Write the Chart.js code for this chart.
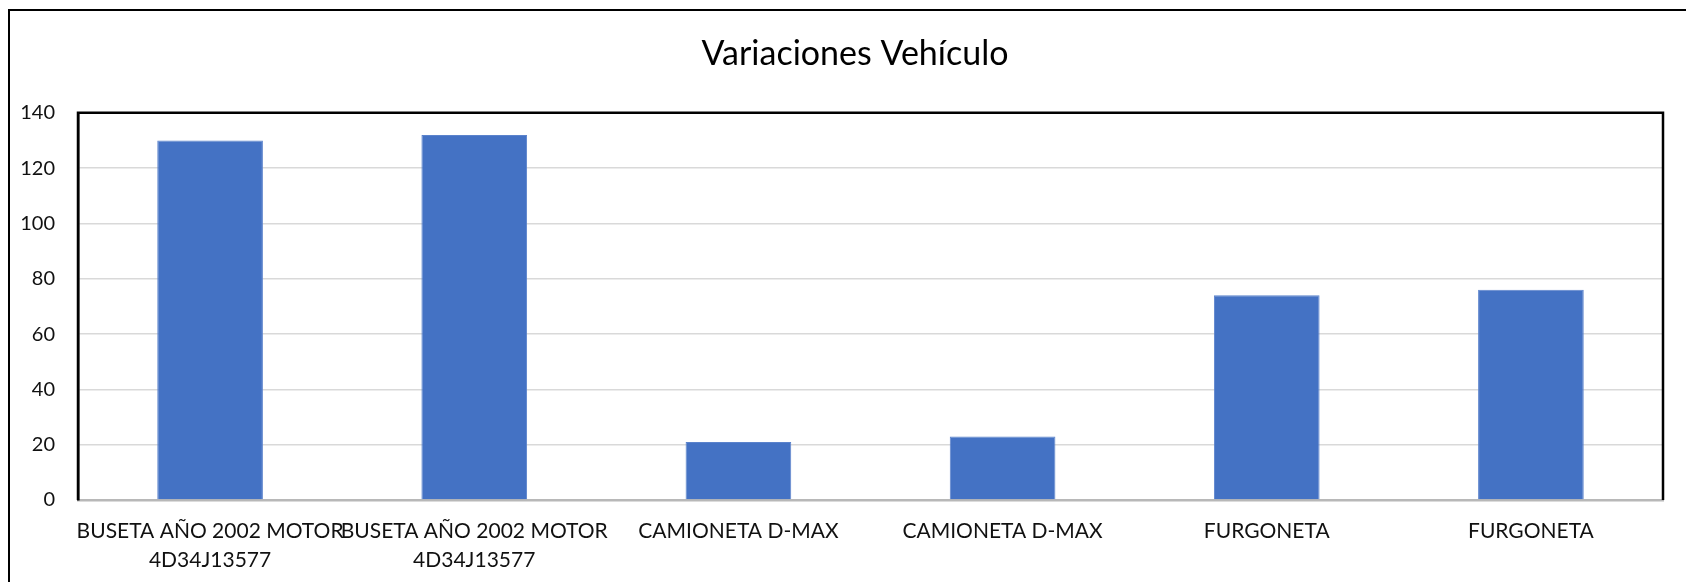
<!DOCTYPE html>
<html>
<head>
<meta charset="utf-8">
<script src="https://cdn.jsdelivr.net/npm/chart.js@4/dist/chart.umd.min.js"></script>
<style>
  html, body { margin: 0; padding: 0; background: #fff; overflow: hidden; }
  #frame { position: absolute; left: 8px; top: 9px; width: 1700px; height: 600px; border: 2.5px solid #000; }
  #vehChart { position: absolute; left: 0; top: 0; }
</style>
</head>
<body>
<div id="frame"></div>
<canvas id="vehChart" width="1700" height="582"></canvas>
<script>
const chartTitle = 'Variaciones Vehículo';
const vehicles = [
  ['BUSETA AÑO 2002 MOTOR', '4D34J13577'],
  ['BUSETA AÑO 2002 MOTOR', '4D34J13577'],
  'CAMIONETA D-MAX',
  'CAMIONETA D-MAX',
  'FURGONETA',
  'FURGONETA'
];
const variations = [130, 132, 21, 23, 74, 76];
const yTicks = [0, 20, 40, 60, 80, 100, 120, 140];

const FONT = "Lato, 'Liberation Sans', sans-serif";

// black outline on top and right of the plot area, like the original
const plotBorder = {
  id: 'plotBorder',
  afterDraw(chart) {
    const { ctx, chartArea: a } = chart;
    ctx.save();
    ctx.strokeStyle = '#000';
    ctx.lineWidth = 2.5;
    ctx.beginPath();
    ctx.moveTo(a.left, a.bottom);
    ctx.lineTo(a.left, a.top);
    ctx.lineTo(a.right, a.top);
    ctx.lineTo(a.right, a.bottom);
    ctx.stroke();
    ctx.restore();
  }
};

const ctx = document.getElementById('vehChart');
new Chart(ctx, {
  type: 'bar',
  data: {
    labels: vehicles,
    datasets: [{
      label: chartTitle,
      data: variations,
      backgroundColor: '#4472C4',
      borderColor: '#5b83cc',
      borderWidth: 1,
      barPercentage: 0.4,
      categoryPercentage: 1
    }]
  },
  options: {
    responsive: false,
    maintainAspectRatio: false,
    animation: false,
    layout: { padding: { top: 10, left: 10, right: 0, bottom: 0 } },
    plugins: {
      legend: { display: false },
      tooltip: { enabled: false },
      title: {
        display: true,
        text: chartTitle,
        color: '#000',
        font: { family: FONT, size: 34, weight: 'normal' },
        padding: { top: 24, bottom: 38 }
      }
    },
    scales: {
      x: {
        grid: { display: false, drawTicks: false },
        border: { display: true, color: '#b8b8b8', width: 2.5 },
        ticks: {
          autoSkip: false,
          maxRotation: 0,
          minRotation: 0,
          padding: 17,
          color: '#111',
          font: { family: FONT, size: 21, lineHeight: 1.38 }
        },
        afterFit(axis) { axis.height = 82; }
      },
      y: {
        min: 0,
        max: 140,
        afterBuildTicks(axis) { axis.ticks = yTicks.map(v => ({ value: v })); },
        grid: { color: '#d9d9d9', lineWidth: 1.5, drawTicks: false },
        border: { display: true, color: '#000', width: 2.5 },
        ticks: {
          padding: 23,
          color: '#111',
          font: { family: FONT, size: 20 }
        },
        afterFit(axis) { axis.width = 68; }
      },
      yRight: {
        type: 'linear',
        position: 'right',
        display: true,
        grid: { display: false, drawTicks: false },
        border: { display: false },
        ticks: { display: false },
        afterFit(axis) { axis.width = 37; }
      }
    }
  },
  plugins: [plotBorder]
});
</script>
</body>
</html>
